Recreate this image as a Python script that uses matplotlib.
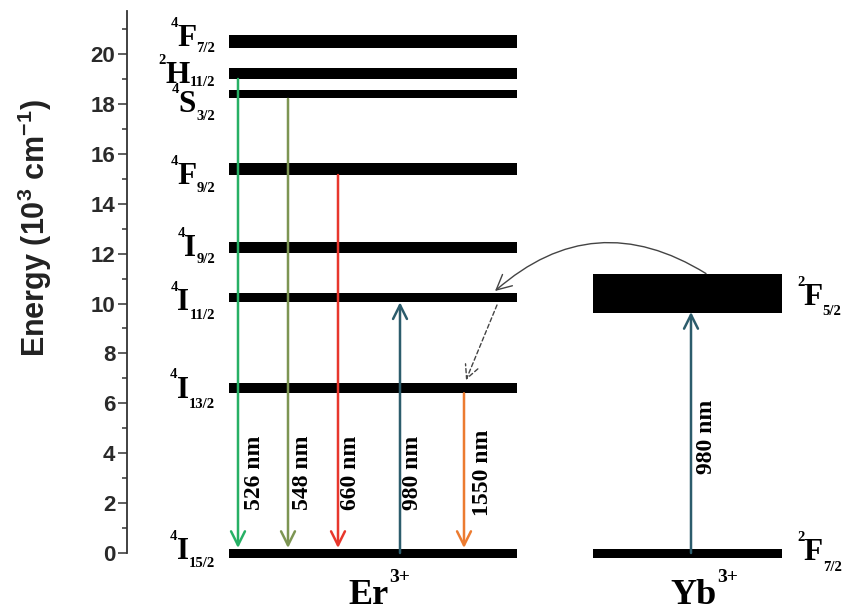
import matplotlib
matplotlib.use("Agg")
import matplotlib.pyplot as plt
from matplotlib.ticker import MultipleLocator

plt.rcParams['mathtext.fontset'] = 'custom'
plt.rcParams['mathtext.rm'] = 'Liberation Sans:bold'
plt.rcParams['mathtext.it'] = 'Liberation Sans:bold'
plt.rcParams['mathtext.bf'] = 'Liberation Sans:bold'

# ---------------- data ----------------
er_levels = [0.0, 6.6, 10.24, 12.24, 15.39, 18.4, 19.2, 20.5]
er_sup = ['4', '4', '4', '4', '4', '4', '2', '4']
er_letter = ['I', 'I', 'I', 'I', 'F', 'S', 'H', 'F']
er_sub = ['15/2', '13/2', '11/2', '9/2', '9/2', '3/2', '11/2', '7/2']

yb_levels = [0.0, 10.42]
yb_sup = ['2', '2']
yb_letter = ['F', 'F']
yb_sub = ['7/2', '5/2']

trans_labels = ['526 nm', '548 nm', '660 nm', '980 nm', '1550 nm']
trans_from = [19.0, 18.2, 15.15, 0.0, 6.4]
trans_to = [0.2, 0.2, 0.2, 10.05, 0.2]

yb_trans_label = '980 nm'
yb_trans_from = 0.0
yb_trans_to = 9.66

# energy transfer Yb(2F5/2) -> Er(4I11/2), then non-radiative relaxation to 4I13/2
et_from = 11.2
et_to = 10.5
nr_from = 9.94
nr_to = 6.93

# ---------------- styles / layout ----------------
PX = 24.95  # pixels per 10^3 cm^-1
X0 = 127    # pixel column of the energy axis
er_thick_px = [9, 10, 9, 11, 12, 8, 11, 13]
yb_thick_px = [9, 39]
er_label_off_px = [-4, -1, 2.5, -1.5, 5, 8, -1, -6]
er_sub_drop_px = [8, 10, 9, 7, 8, 8, 3, 6]
yb_label_off_px = [-3, 1.5]
yb_sub_drop_px = [11, 10]
trans_x = [111, 161, 211, 273, 337]
trans_colors = ['#27b065', '#7d9553', '#e8372c', '#2c5c6c', '#ec7b30']
trans_text_x = [128, 175, 224, 286, 355]
yb_x = 564
yb_text_x = 580
er_bar = (102, 390)
yb_bar = (466, 655)

serif = dict(family='Liberation Serif', fontweight='bold')
LET = 22.5
SUB = 10.5
cap_pt = 0.662 * LET
P2PT = 0.72  # pixel -> point

fig = plt.figure(figsize=(8.42, 6.13), dpi=100)
ax = fig.add_axes([X0 / 842, 0, (842 - X0) / 842, 1])
ax.set_xlim(0, 842 - X0)
ax.set_ylim(-(613 - 553) / PX, 553 / PX)

for s in ['top', 'right', 'bottom']:
    ax.spines[s].set_visible(False)
ax.spines['left'].set_bounds(0, (553 - 11) / PX)
ax.spines['left'].set_linewidth(1.3)
ax.spines['left'].set_color('#333333')
ax.set_xticks([])
ax.yaxis.set_major_locator(MultipleLocator(2))
ax.yaxis.set_minor_locator(MultipleLocator(1))
ax.set_yticks(list(range(0, 21, 2)))
ax.set_yticks(list(range(1, 22, 2)), minor=True)
ax.tick_params(axis='y', which='major', length=6.5, width=1.1, direction='out',
               pad=2, labelsize=16, colors='#333333', labelcolor='#2a2a2a')
ax.tick_params(axis='y', which='minor', length=3.5, width=1.1, direction='out',
               colors='#333333')
for t in ax.get_yticklabels():
    t.set_fontfamily('Liberation Sans')
    t.set_fontweight('bold')

fig.text(35 / 842, 1 - 228 / 613, r'Energy (10$^{3}$ cm$^{-1}$)', rotation=90,
         ha='center', va='center', fontsize=22, fontweight='bold',
         family='Liberation Sans', color='#222222')

# level bars
for lv, th in zip(er_levels, er_thick_px):
    ax.barh(lv, er_bar[1] - er_bar[0], left=er_bar[0], height=th / PX, color='black')
for lv, th in zip(yb_levels, yb_thick_px):
    ax.barh(lv, yb_bar[1] - yb_bar[0], left=yb_bar[0], height=th / PX, color='black')


def er_label(y, off_px, drop_px, sup, let, sub):
    base = y - off_px / PX - (cap_pt / P2PT) / 2 / PX
    t_sub = ax.annotate(sub, xy=(215 - X0, base), xytext=(0, -drop_px * P2PT),
                        textcoords='offset points', ha='right', va='baseline',
                        fontsize=SUB, **serif)
    t_let = ax.annotate(let, xy=(0, base), xycoords=(t_sub, 'data'), xytext=(0, 0),
                        textcoords='offset points', ha='right', va='baseline',
                        fontsize=LET, **serif)
    ax.annotate(sup, xy=(0, base), xycoords=(t_let, 'data'), xytext=(0.5, cap_pt - 1.0),
                textcoords='offset points', ha='right', va='baseline', fontsize=SUB, **serif)


def yb_label(y, off_px, drop_px, sup, let, sub):
    base = y - off_px / PX - (cap_pt / P2PT) / 2 / PX
    t_sup = ax.annotate(sup, xy=(797 - X0, base), xytext=(0, cap_pt - 1.0),
                        textcoords='offset points', ha='left', va='baseline',
                        fontsize=SUB, **serif)
    t_let = ax.annotate(let, xy=(1, base), xycoords=(t_sup, 'data'), xytext=(-0.5, 0),
                        textcoords='offset points', ha='left', va='baseline',
                        fontsize=LET, **serif)
    ax.annotate(sub, xy=(1, base), xycoords=(t_let, 'data'), xytext=(0, -drop_px * P2PT),
                textcoords='offset points', ha='left', va='baseline', fontsize=SUB, **serif)


for lv, off, dr, a, b, c in zip(er_levels, er_label_off_px, er_sub_drop_px,
                                er_sup, er_letter, er_sub):
    er_label(lv, off, dr, a, b, c)
for lv, off, dr, a, b, c in zip(yb_levels, yb_label_off_px, yb_sub_drop_px,
                                yb_sup, yb_letter, yb_sub):
    yb_label(lv, off, dr, a, b, c)

astyle = '->,head_length=0.5,head_width=0.25'
for x, y0, y1, col, lab, tx in zip(trans_x, trans_from, trans_to, trans_colors,
                                   trans_labels, trans_text_x):
    ax.annotate('', xy=(x, y1), xytext=(x, y0),
                arrowprops=dict(arrowstyle=astyle, mutation_scale=20, lw=1.8, color=col,
                                shrinkA=0, shrinkB=0))
    ax.text(tx, (553 - 473) / PX, lab, rotation=90, ha='center', va='center',
            fontsize=17, **serif)

ax.annotate('', xy=(yb_x, yb_trans_to), xytext=(yb_x, yb_trans_from),
            arrowprops=dict(arrowstyle=astyle, mutation_scale=20, lw=1.8, color='#2c5c6c',
                            shrinkA=0, shrinkB=0))
ax.text(yb_text_x, (553 - 437) / PX, yb_trans_label, rotation=90, ha='center', va='center',
        fontsize=17, **serif)

ax.annotate('', xy=(368, et_to), xytext=(579, et_from),
            arrowprops=dict(arrowstyle='->,head_length=0.6,head_width=0.3', mutation_scale=18,
                            lw=1.0, color='#444444', shrinkA=0, shrinkB=0,
                            connectionstyle='arc3,rad=0.37'))
ax.annotate('', xy=(339, nr_to), xytext=(370, nr_from),
            arrowprops=dict(arrowstyle='->,head_length=0.6,head_width=0.3', mutation_scale=16,
                            lw=1.0, color='#444444', linestyle=(0, (3, 2)), shrinkA=0, shrinkB=0))

# ion labels
base_ion = (553 - 604) / PX
t_er = ax.text(221, base_ion, 'Er', ha='left', va='baseline', fontsize=26, **serif)
ax.annotate('3+', xy=(1, base_ion), xycoords=(t_er, 'data'), xytext=(0.5, 15.5),
            textcoords='offset points', ha='left', va='baseline', fontsize=14, **serif)
t_yb = ax.text(543, base_ion, 'Yb', ha='left', va='baseline', fontsize=26, **serif)
ax.annotate('3+', xy=(1, base_ion), xycoords=(t_yb, 'data'), xytext=(0.5, 15.5),
            textcoords='offset points', ha='left', va='baseline', fontsize=14, **serif)

fig.savefig('out.png', dpi=100)
